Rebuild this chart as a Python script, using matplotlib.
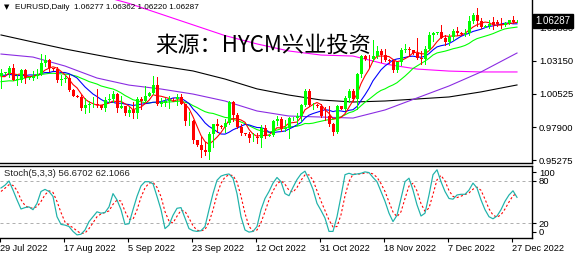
import numpy as np
import matplotlib
matplotlib.use('Agg')
import matplotlib.pyplot as plt

# ---------------- data ----------------
# daily OHLC bars (broker with Sunday bars), 29 Jul 2022 .. 28 Dec 2022
open_ = [1.0195, 1.0220, 1.0222, 1.0260, 1.0163, 1.0167, 1.0246, 1.0180, 1.0182, 1.0196,
         1.0212, 1.0298, 1.0320, 1.0257, 1.0252, 1.0161, 1.0170, 1.0180, 1.0088, 1.0038,
         1.0030, 0.9942, 0.9967, 0.9970, 0.9975, 0.9963, 0.9945, 1.0003, 1.0016, 1.0054,
         0.9945, 0.9954, 0.9905, 0.9928, 0.9902, 1.0013, 0.9997, 1.0040, 1.0060, 1.0122,
         0.9974, 0.9978, 0.9998, 1.0016, 1.0010, 1.0029, 0.9972, 0.9836, 0.9838, 0.9690,
         0.9650, 0.9606, 0.9593, 0.9735, 0.9816, 0.9802, 0.9790, 0.9826, 0.9986, 0.9886,
         0.9794, 0.9742, 0.9735, 0.9702, 0.9706, 0.9704, 0.9780, 0.9722, 0.9730, 0.9840,
         0.9855, 0.9774, 0.9781, 0.9859, 0.9860, 0.9878, 0.9963, 1.0079, 0.9962, 0.9966,
         0.9955, 0.9882, 0.9876, 0.9818, 0.9749, 0.9958, 0.9935, 1.0020, 1.0074, 1.0014,
         1.0210, 1.0354, 1.0330, 1.0326, 1.0354, 1.0394, 1.0362, 1.0325, 1.0310, 1.0241,
         1.0305, 1.0398, 1.0408, 1.0399, 1.0380, 1.0337, 1.0330, 1.0405, 1.0522, 1.0535,
         1.0540, 1.0495, 1.0468, 1.0507, 1.0555, 1.0535, 1.0530, 1.0538, 1.0629, 1.0681,
         1.0627, 1.0585, 1.0590, 1.0625, 1.0620, 1.0607, 1.0595, 1.0618, 1.0637, 1.06277]
high = [1.0254, 1.0228, 1.0274, 1.0294, 1.0212, 1.0254, 1.0250, 1.0188, 1.0237, 1.0248,
        1.0368, 1.0364, 1.0330, 1.0262, 1.0269, 1.0200, 1.0202, 1.0202, 1.0096, 1.0042,
        1.0048, 1.0017, 0.9999, 1.0028, 1.0090, 0.9965, 1.0028, 1.0054, 1.0079, 1.0060,
        1.0033, 0.9954, 0.9952, 0.9987, 1.0030, 1.0030, 1.0113, 1.0070, 1.0197, 1.0187,
        1.0020, 1.0017, 1.0036, 1.0020, 1.0050, 1.0051, 0.9976, 0.9907, 0.9850, 0.9690,
        0.9709, 0.9671, 0.9748, 0.9816, 0.9853, 0.9810, 0.9854, 0.9999, 0.9999, 0.9904,
        0.9816, 0.9745, 0.9752, 0.9742, 0.9741, 0.9807, 0.9809, 0.9735, 0.9850, 0.9876,
        0.9873, 0.9849, 0.9870, 0.9870, 0.9904, 0.9976, 1.0094, 1.0093, 0.9979, 0.9970,
        0.9976, 0.9953, 0.9954, 0.9826, 0.9965, 0.9960, 1.0033, 1.0094, 1.0094, 1.0222,
        1.0365, 1.0360, 1.0364, 1.0481, 1.0435, 1.0408, 1.0409, 1.0330, 1.0318, 1.0308,
        1.0416, 1.0449, 1.0426, 1.0400, 1.0497, 1.0390, 1.0429, 1.0544, 1.0546, 1.0545,
        1.0595, 1.0517, 1.0531, 1.0564, 1.0587, 1.0545, 1.0570, 1.0673, 1.0695, 1.0736,
        1.0657, 1.0595, 1.0639, 1.0665, 1.0639, 1.0657, 1.0623, 1.0640, 1.0671, 1.06362]
low = [1.0097, 1.0212, 1.0185, 1.0160, 1.0123, 1.0147, 1.0142, 1.0170, 1.0160, 1.0183,
       1.0202, 1.0274, 1.0235, 1.0245, 1.0150, 1.0121, 1.0150, 1.0077, 1.0033, 1.0025,
       0.9926, 0.9900, 0.9911, 0.9947, 0.9950, 0.9935, 0.9914, 0.9990, 0.9989, 0.9910,
       0.9940, 0.9890, 0.9876, 0.9865, 0.9864, 0.9930, 0.9995, 1.0040, 1.0055, 0.9966,
       0.9955, 0.9955, 0.9945, 1.0000, 0.9966, 0.9970, 0.9807, 0.9807, 0.9668, 0.9640,
       0.9554, 0.9570, 0.9536, 0.9635, 0.9749, 0.9780, 0.9750, 0.9815, 0.9835, 0.9786,
       0.9728, 0.9725, 0.9670, 0.9684, 0.9666, 0.9632, 0.9704, 0.9720, 0.9723, 0.9809,
       0.9758, 0.9757, 0.9705, 0.9845, 0.9809, 0.9840, 0.9959, 0.9955, 0.9934, 0.9950,
       0.9874, 0.9850, 0.9802, 0.9730, 0.9745, 0.9930, 0.9925, 0.9990, 1.0000, 0.9935,
       1.0186, 1.0320, 1.0270, 1.0314, 1.0341, 1.0302, 1.0312, 1.0300, 1.0225, 1.0223,
       1.0283, 1.0383, 1.0364, 1.0370, 1.0332, 1.0292, 1.0289, 1.0397, 1.0474, 1.0525,
       1.0492, 1.0443, 1.0444, 1.0482, 1.0520, 1.0520, 1.0510, 1.0523, 1.0612, 1.0593,
       1.0572, 1.0580, 1.0575, 1.0571, 1.0590, 1.0573, 1.0588, 1.0610, 1.0612, 1.06220]
close = [1.0220, 1.0222, 1.0260, 1.0163, 1.0167, 1.0246, 1.0180, 1.0182, 1.0196, 1.0212,
         1.0298, 1.0320, 1.0257, 1.0252, 1.0161, 1.0170, 1.0180, 1.0088, 1.0038, 1.0030,
         0.9942, 0.9967, 0.9970, 0.9975, 0.9963, 0.9945, 1.0003, 1.0016, 1.0054, 0.9945,
         0.9954, 0.9905, 0.9928, 0.9902, 1.0013, 0.9997, 1.0040, 1.0060, 1.0122, 0.9974,
         0.9978, 0.9998, 1.0016, 1.0010, 1.0029, 0.9972, 0.9836, 0.9838, 0.9690, 0.9650,
         0.9606, 0.9593, 0.9735, 0.9816, 0.9802, 0.9790, 0.9826, 0.9986, 0.9886, 0.9794,
         0.9742, 0.9735, 0.9702, 0.9706, 0.9704, 0.9780, 0.9722, 0.9730, 0.9840, 0.9855,
         0.9774, 0.9781, 0.9859, 0.9860, 0.9878, 0.9963, 1.0079, 0.9962, 0.9966, 0.9955,
         0.9882, 0.9876, 0.9818, 0.9749, 0.9958, 0.9935, 1.0020, 1.0074, 1.0014, 1.0210,
         1.0354, 1.0330, 1.0326, 1.0354, 1.0394, 1.0362, 1.0325, 1.0310, 1.0241, 1.0305,
         1.0398, 1.0408, 1.0399, 1.0380, 1.0337, 1.0330, 1.0405, 1.0522, 1.0535, 1.0540,
         1.0495, 1.0468, 1.0507, 1.0555, 1.0535, 1.0530, 1.0538, 1.0629, 1.0681, 1.0627,
         1.0585, 1.0590, 1.0605, 1.0598, 1.0607, 1.0595, 1.0618, 1.0637, 1.0620, 1.06287]
# closes of the 19 bars before the first visible bar (for the moving averages)
prior_close = [1.0160, 1.0184, 1.0180, 1.0039, 1.0037, 1.0062, 1.0019, 1.0082, 1.0085,
               1.0140, 1.0226, 1.0178, 1.0229, 1.0212, 1.0215, 1.0224, 1.0115, 1.0198, 1.0195]

# long moving averages (bar index, value)
ma_purple_bar = [0, 8, 16, 24, 32, 40, 48, 56, 64, 72, 80, 88, 96, 104, 112, 120, 129]
ma_purple_val = [1.0369, 1.0345, 1.0274, 1.0179, 1.0123, 1.0092, 1.0052, 0.9997, 0.9918,
                 0.9878, 0.9870, 0.9862, 0.9926, 1.0021, 1.0116, 1.0227, 1.0377]
ma_black_bar = [0, 8, 16, 24, 32, 40, 48, 56, 64, 72, 80, 88, 96, 104, 112, 120, 129]
ma_black_val = [1.0520, 1.0464, 1.0409, 1.0361, 1.0314, 1.0274, 1.0235, 1.0171, 1.0093,
                1.0044, 1.0005, 0.9989, 0.9997, 1.0013, 1.0029, 1.0069, 1.0124]
ma_magenta_bar = [24, 32, 40, 48, 56, 64, 72, 80, 88, 96, 104, 112, 120, 129]
ma_magenta_val = [1.0840, 1.0770, 1.0685, 1.0600, 1.0515, 1.0449, 1.0393, 1.0361, 1.0353,
                  1.0290, 1.0250, 1.0234, 1.0227, 1.0227]

# Stochastic(5,3,3)
stoch_main = [70, 74, 80, 67, 53, 40, 42, 43, 39, 48, 65, 68, 65, 58, 29, 18, 17, 15, 8, 3,
              4, 10, 22, 29, 36, 34, 35, 43, 62, 53, 39, 18, 19, 39, 58, 73, 79, 79, 76, 58,
              39, 12, 17, 31, 41, 42, 27, 12, 9, 8, 9, 15, 39, 62, 81, 87, 89, 90, 84, 62,
              29, 10, 7, 8, 15, 39, 55, 65, 77, 85, 79, 62, 59, 71, 82, 90, 94, 82, 68, 48,
              38, 27, 8, 8, 29, 58, 89, 91, 89, 90, 91, 93, 92, 85, 79, 65, 51, 34, 22, 31,
              55, 79, 84, 67, 46, 30, 34, 60, 89, 96, 79, 65, 55, 54, 60, 61, 61, 67, 77, 70,
              53, 39, 29, 26, 30, 39, 51, 60, 66, 56.67]
stoch_signal = [65, 69.7, 74.7, 73.7, 66.7, 53.3, 45, 41.7, 41.3, 43.3, 50.7, 60.3, 66, 63.7,
                50.7, 35, 21.3, 16.7, 13.3, 8.7, 5, 5.7, 12, 20.3, 29, 33, 35, 37.3, 46.7,
                52.7, 51.3, 36.7, 25.3, 25.3, 38.7, 56.7, 70, 77, 78, 71, 57.7, 36.3, 22.7,
                20, 29.7, 38, 36.7, 27, 16, 9.7, 8.7, 10.7, 21, 38.7, 60.7, 76.7, 85.7, 88.7,
                87.7, 78.7, 58.3, 33.7, 15.3, 8.3, 10, 20.7, 36.3, 53, 65.7, 75.7, 80.3, 75.3,
                66.7, 64, 70.7, 81, 88.7, 88.7, 81.3, 66, 51.3, 37.7, 24.3, 14.3, 15, 31.7,
                58.7, 79.3, 89.7, 90, 90, 91.3, 92, 90, 85.3, 76.3, 65, 50, 35.7, 29, 36, 55,
                72.7, 76.7, 65.7, 47.7, 36.7, 41.3, 61, 81.7, 88, 80, 66.3, 58, 56.3, 58.3,
                60.7, 63, 68.3, 71.3, 66.7, 54, 40.3, 31.3, 28.3, 31.7, 40, 50, 59, 62.11]

date_tick_bars = [0, 16, 32, 48, 64, 80, 96, 112, 128]
date_tick_labels = ['29 Jul 2022', '17 Aug 2022', '5 Sep 2022', '23 Sep 2022', '12 Oct 2022',
                    '31 Oct 2022', '18 Nov 2022', '7 Dec 2022', '27 Dec 2022']
price_ticks = [1.05830, 1.03150, 1.00525, 0.97900, 0.95275]
stoch_tick_vals = [92.4, 80, 20, 7.6]
stoch_tick_labels = ['100', '80', '20', '0']
last_price = 1.06287
title = 'EURUSD,Daily  1.06277 1.06362 1.06220 1.06287'
stoch_title = 'Stoch(5,3,3) 56.6702 62.1066'
watermark = '来源：HYCM兴业投资'

# ---------------- figure ----------------
W, H = 576, 257
fig = plt.figure(figsize=(W / 100, H / 100), dpi=100)
fig.patch.set_facecolor('white')
FONT = 'Liberation Sans'


def fy(py):
    return 1 - py / H


ax = fig.add_axes([0, fy(163), 532 / W, 163 / H])
ax2 = fig.add_axes([0, fy(237.5), 532 / W, (237.5 - 166) / H])

o = np.array(open_); h = np.array(high); l = np.array(low); c = np.array(close)
x = np.arange(len(c))
cols = np.where(c >= o, '#00FF00', '#FF0000')

# moving averages of closes
allc = np.concatenate([prior_close, c])


def sma(arr, n):
    out = np.convolve(arr, np.ones(n) / n, mode='valid')
    return out[-len(c):]


PX = 0.72
ax.plot(ma_black_bar, ma_black_val, color='black', lw=1.1 * PX, zorder=2)
ax.plot(ma_magenta_bar, ma_magenta_val, color='#FF00FF', lw=1.1 * PX, zorder=2)
ax.plot(ma_purple_bar, ma_purple_val, color='#8A2BE2', lw=1.1 * PX, zorder=2)
ax.plot(x, sma(allc, 20), color='#00FF00', lw=1.1 * PX, zorder=2)
ax.plot(x, sma(allc, 10), color='#0000FF', lw=1.1 * PX, zorder=2)
ax.plot(x, sma(allc, 5), color='#FF0000', lw=1.1 * PX, zorder=2)

ax.vlines(x, l, h, colors=cols, linewidth=1.0 * PX, antialiased=False, zorder=3)
body = np.maximum(np.abs(c - o), 0.0005)
ax.bar(x, body, bottom=np.minimum(o, c), width=0.75, color=cols, linewidth=0,
       antialiased=False, zorder=4)

ax.set_xlim(-0.25, 132.75)
ax.set_ylim(0.95060, 1.07969)
ax.set_xticks([])
ax.yaxis.tick_right()
ax.set_yticks(price_ticks)
ax.set_yticklabels(['%.5f' % v for v in price_ticks])
ax.tick_params(axis='y', length=3, width=0.8, pad=2, labelsize=6.8, colors='black')
for s in ['top', 'left']:
    ax.spines[s].set_visible(False)
for s in ['right', 'bottom']:
    ax.spines[s].set_linewidth(1.0)
for t in ax.get_yticklabels():
    t.set_family(FONT)

ax.annotate('%.5f' % last_price, xy=(1, last_price), xycoords=('axes fraction', 'data'),
            xytext=(2.5, 0), textcoords='offset points', ha='left', va='center',
            color='white', fontsize=7, family=FONT,
            bbox=dict(boxstyle='square,pad=0.22', fc='black', ec='black'),
            annotation_clip=False, zorder=10)

# stochastic panel
ax2.axhline(80, color='#B0B0B0', lw=1 * PX, ls=(0, (3, 3)), zorder=1)
ax2.axhline(20, color='#B0B0B0', lw=1 * PX, ls=(0, (3, 3)), zorder=1)
ax2.plot(x, stoch_signal, color='#FF0000', lw=1.1 * PX, ls=(0, (2, 2)), zorder=2)
ax2.plot(x, stoch_main, color='#20B2AA', lw=1.2 * PX, zorder=3)
ax2.set_xlim(-0.25, 132.75)
ax2.set_ylim(-0.7, 101.4)
ax2.yaxis.tick_right()
ax2.set_yticks(stoch_tick_vals)
ax2.set_yticklabels(stoch_tick_labels)
ax2.tick_params(axis='y', length=3, width=0.8, pad=2, labelsize=6.8)
ax2.set_xticks(np.array(date_tick_bars) - 0.25)
ax2.set_xticklabels(date_tick_labels)
ax2.tick_params(axis='x', length=3, width=0.8, pad=1.5, labelsize=6.6)
for t in ax2.get_xticklabels():
    t.set_ha('left'); t.set_family(FONT)
for t in ax2.get_yticklabels():
    t.set_family(FONT)
ax2.spines['left'].set_visible(False)
for s in ['top', 'right', 'bottom']:
    ax2.spines[s].set_linewidth(1.0)

# texts
fig.text(4 / W, fy(7.5), '▼', fontsize=5, family='DejaVu Sans', va='center', ha='left')
fig.text(15 / W, fy(7.5), title, fontsize=5.9, family=FONT, va='center', ha='left')
fig.text(4 / W, fy(174), stoch_title, fontsize=6.8, family=FONT, va='center', ha='left',
         color='#222222')
fig.text(155 / W, fy(45), watermark, fontsize=16, family=['Noto Sans CJK SC', 'DejaVu Sans'],
         va='center', ha='left', color='black')

fig.savefig('out.png', dpi=100, facecolor='white')
